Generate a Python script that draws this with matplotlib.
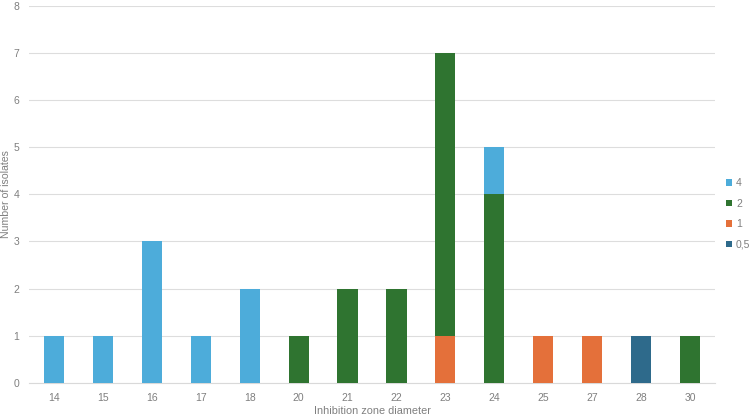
import matplotlib
matplotlib.use("Agg")
import matplotlib.pyplot as plt
import numpy as np

plt.rcParams['font.family'] = ['Liberation Sans Narrow', 'Liberation Sans', 'DejaVu Sans']

categories = ["14", "15", "16", "17", "18", "20", "21", "22", "23", "24", "25", "27", "28", "30"]
series_names = ["0,5", "1", "2", "4"]
vals_05 = [0, 0, 0, 0, 0, 0, 0, 0, 0, 0, 0, 0, 1, 0]
vals_1  = [0, 0, 0, 0, 0, 0, 0, 0, 1, 0, 1, 1, 0, 0]
vals_2  = [0, 0, 0, 0, 0, 1, 2, 2, 6, 4, 0, 0, 0, 1]
vals_4  = [1, 1, 3, 1, 2, 0, 0, 0, 0, 1, 0, 0, 0, 0]
colors = ["#2E6A8B", "#E4703A", "#2F7430", "#4DACDA"]

fig = plt.figure(figsize=(7.5, 4.17), dpi=100)
ax = fig.add_axes([0.039, 0.0815, 0.914, 0.905])

x = np.arange(len(categories))
bottom = np.zeros(len(categories))
handles = []
for name, vals, c in zip(series_names, [vals_05, vals_1, vals_2, vals_4], colors):
    v = np.array(vals, dtype=float)
    b = ax.bar(x, v, bottom=bottom, width=0.41, color=c, label=name, zorder=3)
    handles.append(b)
    bottom += v

ax.set_xlim(-0.5, len(categories) - 0.5)
ax.set_ylim(0, 8)
ax.set_yticks(range(0, 9))
ax.set_xticks(x)
ax.set_xticklabels(categories)
ax.grid(axis='y', color='#DDDDDD', linewidth=0.8, zorder=0)
for s in ['top', 'right', 'left']:
    ax.spines[s].set_visible(False)
ax.spines['bottom'].set_color('#D9D9D9')
ax.tick_params(axis='both', length=0, labelsize=7.5, colors='#7F7F7F')
ax.tick_params(axis='x', pad=7)
ax.tick_params(axis='y', pad=7)
ax.set_ylabel("Number of isolates", fontsize=7.6, color='#7F7F7F')
ax.yaxis.set_label_coords(-0.027, 0.5)
ax.set_xlabel("Inhibition zone diameter", fontsize=7.8, color='#7F7F7F', labelpad=2)

leg = fig.legend(handles[::-1], series_names[::-1], loc='center left',
                 bbox_to_anchor=(0.962, 0.487), frameon=False, fontsize=7.5,
                 handlelength=0.6, handleheight=0.6, handletextpad=0.4,
                 labelspacing=1.0, borderaxespad=0)
for t in leg.get_texts():
    t.set_color('#7F7F7F')

fig.savefig("out.png", dpi=100)
